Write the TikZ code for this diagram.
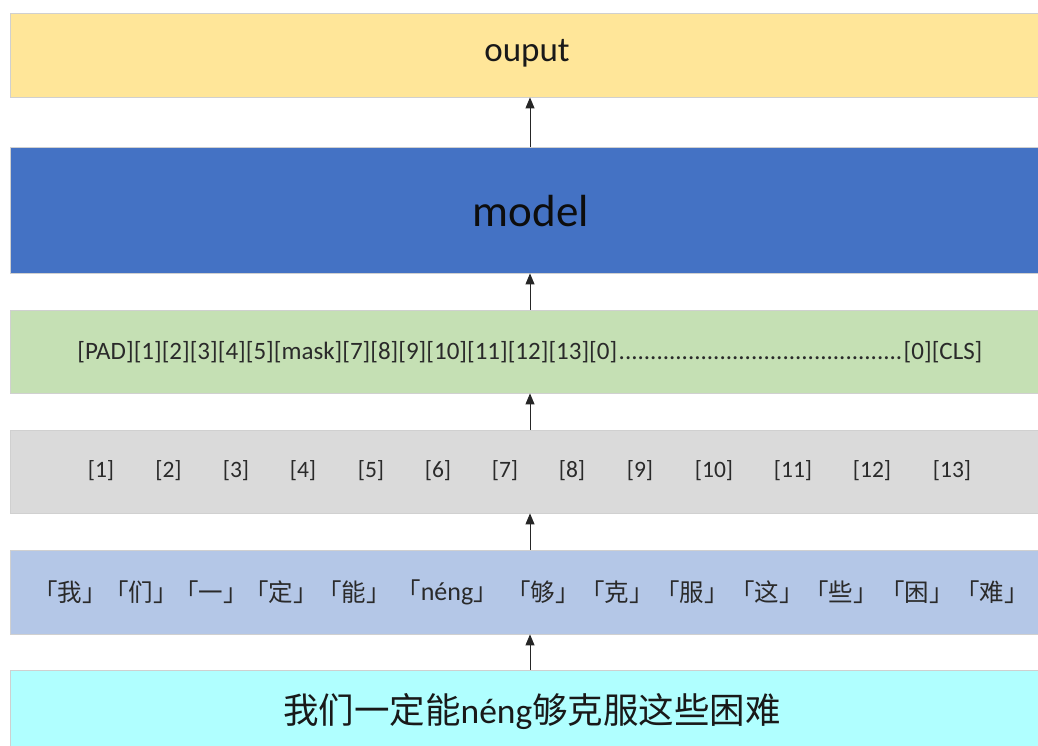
\documentclass[tikz,border=0pt]{standalone}
\usepackage{fontspec}
\setmainfont{Carlito}
\newfontfamily\cjk{Noto Sans CJK SC}
\usetikzlibrary{arrows.meta}

\definecolor{outfill}{HTML}{FFE699}
\definecolor{modelfill}{HTML}{4472C4}
\definecolor{idfill}{HTML}{C5E0B4}
\definecolor{tokfill}{HTML}{DADADA}
\definecolor{charfill}{HTML}{B4C7E7}
\definecolor{sentfill}{HTML}{B0FFFF}
\definecolor{txt}{HTML}{2A2A2A}
\definecolor{rim}{HTML}{D0D0D0}

\tikzset{
  layer/.style={draw=rim, line width=0.8pt, minimum width=1040pt, inner sep=0pt},
  flow/.style={draw=black!85, line width=1pt, -{Triangle[length=11pt,width=9pt]}},
  tokid/.style={text=txt, font=\fontsize{23.5}{26}\selectfont, inner sep=0pt},
  ch/.style={text=txt, font=\fontsize{24.5}{27}\selectfont\cjk, inner sep=0pt},
}

\newcommand{\bk}[1]{{\cjk 「}#1{\cjk 」}}

\begin{document}
\begin{tikzpicture}[x=1pt,y=-1pt]
\useasboundingbox (0,0) rectangle (1038,746);

% stacked layers, bottom-up data flow
\node[layer, fill=outfill, minimum height=84pt] (out) at (530,55) {};
\node[text=black!90, inner sep=0pt] (outlbl) at (527,53)
  {\fontsize{35}{38}\selectfont ouput};
\node[layer, fill=modelfill, minimum height=126pt] (model) at (530,210) {};
\node[text=black!95, inner sep=0pt] (modellbl) at (531,211)
  {\fontsize{45}{48}\selectfont model};
\node[layer, fill=idfill, minimum height=83pt] (ids) at (530,351.5) {};
\node[layer, fill=tokfill, minimum height=83pt] (tok) at (530,471.5) {};
\node[layer, fill=charfill, minimum height=84pt] (chars) at (530,592) {};
\node[layer, fill=sentfill, minimum height=90pt] (sent) at (530,715) {};

% padded id sequence
\node[tokid, font=\fontsize{25}{27}\selectfont] (seq) at (530,352)
  {[PAD][1][2][3][4][5][mask][7][8][9][10][11][12][13][0]\hbox to 287pt{\cleaders\hbox{.}\hfill}[0][CLS]};

% token ids
\foreach \v/\x in {1/101,2/168.5,3/236,4/303,5/371,6/438,7/505,8/572,9/640,10/714,11/793,12/872,13/952}
  \node[tokid] (t\v) at (\x,471) {[\v]};

% split characters
\node[ch] (c1) at (70,592) {\bk{我}};
\node[ch] (c2) at (141,592) {\bk{们}};
\node[ch] (c3) at (211,592) {\bk{一}};
\node[ch] (c4) at (281,592) {\bk{定}};
\node[ch] (c5) at (354,592) {\bk{能}};
\node[ch] (c6) at (447,592) {\bk{{\rmfamily\fontsize{26}{28}\selectfont néng}}};
\node[ch] (c7) at (543,592) {\bk{够}};
\node[ch] (c8) at (617,592) {\bk{克}};
\node[ch] (c9) at (692,592) {\bk{服}};
\node[ch] (c10) at (767,592) {\bk{这}};
\node[ch] (c11) at (841,592) {\bk{些}};
\node[ch] (c12) at (917,592) {\bk{困}};
\node[ch] (c13) at (992,592) {\bk{难}};

% raw sentence
\node[text=black!90, inner sep=0pt] (raw) at (532,712)
  {\fontsize{35.5}{38}\selectfont{\cjk 我们一定能}néng{\cjk 够克服这些困难}};

% arrows between layers
\draw[flow] (sent.north) -- (chars.south);
\draw[flow] (chars.north) -- (tok.south);
\draw[flow] (tok.north) -- (ids.south);
\draw[flow] (ids.north) -- (model.south);
\draw[flow] (model.north) -- (out.south);
\end{tikzpicture}
\end{document}
